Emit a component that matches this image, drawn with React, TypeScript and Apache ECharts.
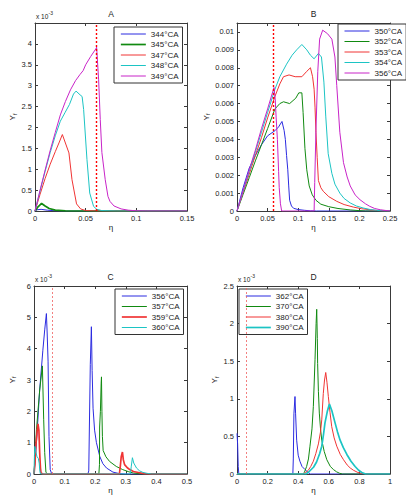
import React, { useEffect, useRef } from "react";
import * as echarts from "echarts";

type Pt = [number, number];

// η at which the vertical reference line is drawn in every panel
const thresholdEta = 0.062;

// ---- Panel A: Y_f (x 10^-3) against η
const namesA = ["344°CA", "345°CA", "347°CA", "348°CA", "349°CA"];
const a344: Pt[] = [[0, 0], [0.002, 0.03], [0.006, 0.04], [0.012, 0.02], [0.02, 0.005], [0.03, 0], [0.15, 0]];
const a345: Pt[] = [[0, 0], [0.003, 0.1], [0.0065, 0.18], [0.01, 0.12], [0.014, 0.06], [0.02, 0.02], [0.03, 0.005], [0.04, 0], [0.15, 0]];
const a347: Pt[] = [[0, 0], [0.005, 0.4], [0.01, 0.78], [0.015, 1.12], [0.02, 1.42], [0.024, 1.65], [0.027, 1.83], [0.0335, 1.39], [0.0365, 0.75], [0.041, 0.17], [0.045, 0.05], [0.05, 0.01], [0.06, 0], [0.15, 0]];
const a348: Pt[] = [[0, 0], [0.005, 0.48], [0.01, 0.95], [0.015, 1.4], [0.02, 1.8], [0.025, 2.15], [0.0295, 2.35], [0.034, 2.55], [0.038, 2.8], [0.0405, 2.87], [0.0445, 2.78], [0.0465, 2.74], [0.048, 2.43], [0.0513, 1.23], [0.054, 0.43], [0.0578, 0.11], [0.061, 0.04], [0.066, 0.01], [0.08, 0], [0.15, 0]];
const a349: Pt[] = [[0, 0], [0.005, 0.5], [0.01, 0.98], [0.015, 1.45], [0.02, 1.88], [0.025, 2.3], [0.03, 2.62], [0.035, 2.9], [0.04, 3.12], [0.0445, 3.27], [0.0475, 3.36], [0.05, 3.5], [0.055, 3.7], [0.06, 3.88], [0.0608, 3.92], [0.0628, 3.14], [0.0644, 2.19], [0.066, 1.4], [0.0693, 0.75], [0.072, 0.35], [0.074, 0.23], [0.078, 0.12], [0.085, 0.05], [0.092, 0.02], [0.1, 0.005], [0.11, 0], [0.15, 0]];

// ---- Panel B: Y_f against η
const namesB = ["350°CA", "352°CA", "353°CA", "354°CA", "356°CA"];
const b350: Pt[] = [[0, 0], [0.01, 0.0013], [0.02, 0.0024], [0.03, 0.0031], [0.04, 0.0037], [0.05, 0.0042], [0.0626, 0.0045], [0.068, 0.0047], [0.0735, 0.005], [0.077, 0.0045], [0.079, 0.004], [0.081, 0.0031], [0.083, 0.0023], [0.0845, 0.0014], [0.086, 0.0006], [0.089, 0.00028], [0.0925, 0.00015], [0.1, 0.00008], [0.11, 0.00004], [0.12, 0.00001], [0.13, 0], [0.25, 0]];
const b352: Pt[] = [[0, 0], [0.01, 0.00093], [0.02, 0.00186], [0.03, 0.0028], [0.04, 0.0037], [0.05, 0.0046], [0.062, 0.0057], [0.07, 0.006], [0.076, 0.0061], [0.086, 0.006], [0.096, 0.0063], [0.101, 0.0066], [0.106, 0.0066], [0.108, 0.0055], [0.111, 0.0035], [0.114, 0.0023], [0.118, 0.0014], [0.123, 0.0009], [0.129, 0.0006], [0.137, 0.00038], [0.15, 0.00024], [0.165, 0.00014], [0.185, 0.00006], [0.2, 0.00002], [0.21, 0], [0.25, 0]];
const b353: Pt[] = [[0, 0], [0.01, 0.00103], [0.02, 0.00206], [0.03, 0.0031], [0.04, 0.0041], [0.05, 0.0052], [0.062, 0.0064], [0.07, 0.0071], [0.076, 0.0075], [0.085, 0.0076], [0.095, 0.0075], [0.106, 0.0075], [0.114, 0.0078], [0.12, 0.008], [0.1235, 0.0075], [0.126, 0.0068], [0.1275, 0.0058], [0.129, 0.0044], [0.131, 0.003], [0.133, 0.0017], [0.137, 0.0013], [0.141, 0.0011], [0.15, 0.0008], [0.163, 0.00054], [0.175, 0.00036], [0.19, 0.00022], [0.203, 0.00013], [0.217, 0.00007], [0.23, 0.00002], [0.24, 0], [0.25, 0]];
const b354: Pt[] = [[0, 0], [0.01, 0.0011], [0.02, 0.0022], [0.03, 0.0033], [0.04, 0.0044], [0.05, 0.0055], [0.062, 0.0068], [0.07, 0.0075], [0.081, 0.0082], [0.09, 0.0087], [0.0975, 0.009], [0.106, 0.0093], [0.114, 0.009], [0.12, 0.0087], [0.126, 0.0085], [0.133, 0.0088], [0.138, 0.0086], [0.142, 0.0072], [0.145, 0.0053], [0.149, 0.0032], [0.155, 0.0021], [0.16, 0.0015], [0.168, 0.001], [0.175, 0.0007], [0.185, 0.00045], [0.195, 0.00028], [0.206, 0.00017], [0.218, 0.00008], [0.228, 0.00004], [0.24, 0], [0.25, 0]];
const b356: Pt[] = [[0, 0], [0.01, 0.00114], [0.02, 0.0023], [0.03, 0.0034], [0.04, 0.0046], [0.05, 0.0057], [0.0605, 0.0069], [0.0625, 0.0062], [0.064, 0.0052], [0.066, 0.004], [0.068, 0.0022], [0.069, 0.0013], [0.071, 0.0004], [0.073, 0], [0.126, 0], [0.127, 0.0016], [0.129, 0.0045], [0.132, 0.0078], [0.135, 0.0096], [0.14, 0.0101], [0.148, 0.0099], [0.155, 0.0096], [0.16, 0.0086], [0.163, 0.007], [0.168, 0.0044], [0.174, 0.0027], [0.18, 0.0019], [0.185, 0.0014], [0.193, 0.0009], [0.201, 0.00063], [0.21, 0.0004], [0.217, 0.00026], [0.225, 0.00014], [0.234, 0.00007], [0.245, 0.00002], [0.25, 0]];

// ---- Panel C: Y_f (x 10^-3) against η
const namesC = ["356°CA", "357°CA", "359°CA", "360°CA"];
const c356: Pt[] = [[0, 0], [0.005, 0.6], [0.01, 1.3], [0.0185, 2.68], [0.029, 3.95], [0.035, 4.6], [0.0405, 5.12], [0.043, 4.5], [0.046, 3.6], [0.049, 1.2], [0.053, 0.14], [0.058, 0], [0.176, 0], [0.179, 0.1], [0.181, 1.5], [0.184, 3.5], [0.1875, 4.7], [0.19, 3.3], [0.193, 2.1], [0.198, 1.4], [0.204, 1.0], [0.215, 0.56], [0.225, 0.33], [0.237, 0.19], [0.258, 0.06], [0.28, 0.01], [0.3, 0], [0.5, 0]];
const c357: Pt[] = [[0, 0], [0.002, 0.3], [0.008, 1.41], [0.0186, 2.68], [0.0274, 3.45], [0.0317, 1.73], [0.035, 0.68], [0.039, 0.05], [0.045, 0], [0.212, 0], [0.214, 0.3], [0.2145, 1.5], [0.217, 2.0], [0.2195, 2.9], [0.2205, 3.1], [0.222, 2.0], [0.2235, 1.2], [0.226, 0.75], [0.235, 0.55], [0.247, 0.4], [0.269, 0.24], [0.29, 0.14], [0.31, 0.07], [0.325, 0.03], [0.35, 0.005], [0.37, 0], [0.5, 0]];
const c359: Pt[] = [[0, 0], [0.003, 0.3], [0.006, 0.9], [0.01, 1.35], [0.013, 1.6], [0.016, 1.4], [0.0185, 0.7], [0.021, 0.2], [0.023, 0.03], [0.03, 0], [0.279, 0], [0.282, 0.24], [0.285, 0.55], [0.289, 0.7], [0.292, 0.45], [0.296, 0.3], [0.305, 0.2], [0.313, 0.14], [0.325, 0.08], [0.345, 0.04], [0.36, 0.01], [0.378, 0], [0.5, 0]];
const c360: Pt[] = [[0, 0], [0.0015, 0.6], [0.003, 0.88], [0.006, 0.7], [0.01, 0.55], [0.014, 0.5], [0.017, 0.35], [0.019, 0.1], [0.021, 0], [0.315, 0], [0.318, 0.25], [0.3216, 0.52], [0.326, 0.35], [0.335, 0.19], [0.345, 0.1], [0.356, 0.05], [0.37, 0.02], [0.385, 0], [0.5, 0]];

// ---- Panel D: Y_f (x 10^-3) against η
const namesD = ["362°CA", "370°CA", "380°CA", "390°CA"];
const d362: Pt[] = [[0, 0.54], [0.004, 0.4], [0.008, 0.1], [0.012, 0], [0.365, 0], [0.368, 0.2], [0.372, 0.8], [0.379, 1.03], [0.383, 0.8], [0.39, 0.45], [0.4, 0.25], [0.411, 0.17], [0.425, 0.1], [0.444, 0.06], [0.465, 0.02], [0.48, 0], [1, 0]];
const d370: Pt[] = [[0, 0], [0.43, 0], [0.44, 0.02], [0.455, 0.1], [0.467, 0.2], [0.477, 0.37], [0.49, 0.6], [0.499, 0.9], [0.51, 1.52], [0.517, 2.0], [0.521, 2.19], [0.525, 1.8], [0.527, 1.47], [0.532, 1.1], [0.538, 0.81], [0.546, 0.6], [0.554, 0.45], [0.57, 0.3], [0.587, 0.19], [0.61, 0.1], [0.63, 0.06], [0.65, 0.03], [0.67, 0.01], [0.69, 0], [1, 0]];
const d380: Pt[] = [[0, 0], [0.43, 0], [0.45, 0.02], [0.466, 0.05], [0.482, 0.1], [0.499, 0.17], [0.515, 0.27], [0.532, 0.4], [0.545, 0.55], [0.554, 0.72], [0.564, 1.07], [0.572, 1.25], [0.58, 1.35], [0.588, 1.22], [0.597, 1.03], [0.608, 0.82], [0.619, 0.63], [0.635, 0.48], [0.652, 0.37], [0.675, 0.26], [0.696, 0.19], [0.72, 0.12], [0.74, 0.08], [0.761, 0.05], [0.79, 0.02], [0.83, 0], [1, 0]];
const d390: Pt[] = [[0, 0], [0.45, 0], [0.465, 0.02], [0.48, 0.05], [0.5, 0.09], [0.52, 0.16], [0.54, 0.27], [0.554, 0.37], [0.565, 0.52], [0.575, 0.68], [0.59, 0.83], [0.604, 0.93], [0.62, 0.84], [0.641, 0.68], [0.657, 0.56], [0.674, 0.45], [0.695, 0.35], [0.718, 0.26], [0.745, 0.17], [0.772, 0.1], [0.795, 0.05], [0.816, 0.02], [0.84, 0], [1, 0]];

// MATLAB-like line colours
const BLUE = "#2b2be0";
const GREEN = "#118a11";
const RED = "#f03434";
const CYAN = "#1cc4c4";
const MAGENTA = "#c824c8";

const FONT = "'Liberation Sans', Arial, Helvetica, sans-serif";
const INK = "#222";
const FRAME = "#3a3a3a";

interface Panel {
  title: string;
  names: string[];
  curves: Pt[][];
  colors: string[];
  widths: number[];
  xMax: number;
  xStep: number;
  yMax: number;
  yStep: number;
  yLabelMax: number;
  multiplier: boolean;
  grid: { left: number; top: number; width: number; height: number };
  legend: { left: number; top: number };
  yNameGap: number;
  refLine: { color: string; width: number };
}

const panels: Panel[] = [
  {
    title: "A", names: namesA, curves: [a344, a345, a347, a348, a349],
    colors: [BLUE, GREEN, RED, CYAN, MAGENTA], widths: [1, 1.7, 1, 1, 1],
    xMax: 0.15, xStep: 0.05, yMax: 4.5, yStep: 0.5, yLabelMax: 4, multiplier: true,
    grid: { left: 35, top: 23, width: 152, height: 188 }, legend: { left: 114, top: 27 },
    yNameGap: 17, refLine: { color: "#ff0000", width: 1.4 },
  },
  {
    title: "B", names: namesB, curves: [b350, b352, b353, b354, b356],
    colors: [BLUE, GREEN, RED, CYAN, MAGENTA], widths: [1, 1, 1, 1, 1],
    xMax: 0.25, xStep: 0.05, yMax: 0.0105, yStep: 0.001, yLabelMax: 0.01, multiplier: false,
    grid: { left: 237, top: 23, width: 153, height: 188 }, legend: { left: 338, top: 24 },
    yNameGap: 24, refLine: { color: "#ff0000", width: 1.4 },
  },
  {
    title: "C", names: namesC, curves: [c356, c357, c359, c360],
    colors: [BLUE, GREEN, RED, CYAN], widths: [1, 1, 1.7, 1],
    xMax: 0.5, xStep: 0.1, yMax: 6, yStep: 1, yLabelMax: 6, multiplier: true,
    grid: { left: 34, top: 286, width: 153, height: 188 }, legend: { left: 115, top: 289 },
    yNameGap: 17, refLine: { color: "#f06060", width: 0.8 },
  },
  {
    title: "D", names: namesD, curves: [d362, d370, d380, d390],
    colors: [BLUE, GREEN, RED, CYAN], widths: [1, 1, 1, 1.7],
    xMax: 1, xStep: 0.2, yMax: 2.5, yStep: 0.5, yLabelMax: 2.5, multiplier: true,
    grid: { left: 237, top: 286, width: 153, height: 188 }, legend: { left: 239, top: 289 },
    yNameGap: 17, refLine: { color: "#f06060", width: 0.8 },
  },
];

const num = (v: number) => String(parseFloat(v.toFixed(5)));

function buildOption() {
  const grid: any[] = [];
  const xAxis: any[] = [];
  const yAxis: any[] = [];
  const series: any[] = [];
  const legend: any[] = [];
  const graphic: any[] = [];

  const axisBase = {
    type: "value",
    splitLine: { show: false },
    axisLine: { show: true, onZero: false, lineStyle: { color: FRAME, width: 1 } },
    axisTick: { show: true, inside: true, length: 3, lineStyle: { color: FRAME, width: 1 } },
  };
  const labelStyle = { fontSize: 7.5, color: INK, fontFamily: FONT };

  const n = panels.length;
  panels.forEach((p, i) => {
    grid.push({ ...p.grid, containLabel: false, show: false });

    // bottom / left axes carry the labels
    xAxis[i] = {
      ...axisBase, gridIndex: i, position: "bottom", min: 0, max: p.xMax, interval: p.xStep,
      axisLabel: { ...labelStyle, margin: 3, formatter: (v: number) => num(v) },
      name: "η", nameLocation: "middle", nameGap: 12,
      nameTextStyle: { fontSize: 8, color: INK, fontFamily: FONT },
    };
    yAxis[i] = {
      ...axisBase, gridIndex: i, position: "left", min: 0, max: p.yMax, interval: p.yStep,
      axisLabel: {
        ...labelStyle, margin: 3,
        formatter: (v: number) => (v > p.yLabelMax + p.yStep * 1e-3 ? "" : num(v)),
      },
      name: "Y{sub|f}", nameLocation: "middle", nameGap: p.yNameGap, nameRotate: 90,
      nameTextStyle: {
        fontSize: 8, color: INK, fontFamily: FONT,
        rich: { sub: { fontSize: 5.5, color: INK, fontFamily: FONT, verticalAlign: "bottom", padding: [4, 0, 0, 0] } },
      },
    };
    // top / right axes close the box with inward ticks
    xAxis[n + i] = {
      ...axisBase, gridIndex: i, position: "top", min: 0, max: p.xMax, interval: p.xStep,
      axisLabel: { show: false },
    };
    yAxis[n + i] = {
      ...axisBase, gridIndex: i, position: "right", min: 0, max: p.yMax, interval: p.yStep,
      axisLabel: { show: false },
    };

    p.curves.forEach((data, k) => {
      const s: any = {
        type: "line",
        name: p.names[k],
        xAxisIndex: i,
        yAxisIndex: i,
        data,
        symbol: "none",
        showSymbol: false,
        clip: true,
        silent: true,
        lineStyle: { color: p.colors[k], width: p.widths[k] },
        itemStyle: { color: p.colors[k] },
        emphasis: { disabled: true },
      };
      if (k === 0) {
        s.markLine = {
          silent: true,
          symbol: "none",
          label: { show: false },
          lineStyle: { color: p.refLine.color, type: [2, 2], width: p.refLine.width },
          data: [{ xAxis: thresholdEta }],
        };
      }
      series.push(s);
    });

    legend.push({
      orient: "vertical",
      left: p.legend.left,
      top: p.legend.top,
      backgroundColor: "#fff",
      borderColor: "#333",
      borderWidth: 1,
      borderRadius: 0,
      padding: [3, 4, 3, 6],
      itemWidth: 25,
      itemHeight: 9,
      itemGap: 2.5,
      selectedMode: false,
      textStyle: { fontSize: 8, color: INK, fontFamily: FONT },
      data: p.names.map((nm, k) => ({
        name: nm,
        // line sample only: the marker symbol is made invisible
        itemStyle: { color: p.colors[k], opacity: 0, borderWidth: 0 },
        lineStyle: { color: p.colors[k], width: p.widths[k], opacity: 1 },
      })),
    });

    const cx = p.grid.left + p.grid.width / 2;
    graphic.push({
      type: "text", x: cx, y: p.grid.top - 9,
      style: { text: p.title, fontSize: 8.5, fill: INK, fontFamily: FONT, align: "center", verticalAlign: "middle" },
    });
    if (p.multiplier) {
      graphic.push({
        type: "text", x: p.grid.left + 1, y: p.grid.top - 7,
        style: { text: "x 10", fontSize: 6.5, fill: INK, fontFamily: FONT, align: "left", verticalAlign: "middle" },
      });
      graphic.push({
        type: "text", x: p.grid.left + 13.5, y: p.grid.top - 10,
        style: { text: "-3", fontSize: 5, fill: INK, fontFamily: FONT, align: "left", verticalAlign: "middle" },
      });
    }
  });

  return {
    animation: false,
    backgroundColor: "#fff",
    grid,
    xAxis,
    yAxis,
    legend,
    series,
    graphic,
  };
}

export default function App() {
  const ref = useRef<HTMLDivElement>(null);
  useEffect(() => {
    if (!ref.current) return;
    const chart = echarts.init(ref.current, undefined, { renderer: "svg" });
    chart.setOption(buildOption());
    return () => chart.dispose();
  }, []);
  return (
    <div
      ref={ref}
      style={{ position: "absolute", left: 0, top: 0, width: 406, height: 504, background: "#fff" }}
    />
  );
}
